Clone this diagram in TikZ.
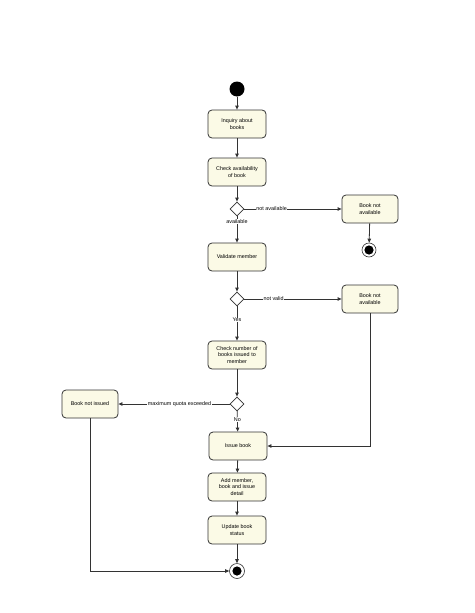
\documentclass[tikz,border=0pt]{standalone}
\usepackage{fontspec}
\setmainfont{Liberation Sans}
\usetikzlibrary{shapes.geometric,arrows.meta}
\definecolor{boxfill}{HTML}{FBFAE6}
\definecolor{edge}{HTML}{333333}
\begin{document}
\begin{tikzpicture}[x=1pt,y=-1pt,
  font=\fontsize{5.4}{6.6}\selectfont,
  act/.style={draw=edge,fill=boxfill,rounded corners=4pt,line width=0.8pt,
    minimum width=58pt,minimum height=28pt,align=center,inner sep=1pt},
  dec/.style={draw=edge,fill=white,diamond,line width=0.8pt,minimum width=14pt,minimum height=14pt,inner sep=0pt},
  startnode/.style={circle,fill=black,minimum size=15pt,inner sep=0pt},
  endnode/.style={circle,draw=edge,fill=white,line width=0.6pt,minimum size=14pt,inner sep=0pt,
    path picture={\fill[black] (path picture bounding box.center) circle (4.6pt);}},
  flow/.style={draw=edge,line width=0.8pt,-{Triangle[length=4pt,width=3.5pt]}},
  lbl/.style={fill=white,inner sep=0.5pt}]
\useasboundingbox (0,0) rectangle (474,613);
\node[startnode] (s) at (237,89) {};
\node[act] (inq) at (237,124) {Inquiry about\\books};
\node[act] (chk) at (237,172) {Check availability\\of book};
\node[dec] (d1) at (237,209) {};
\node[act,minimum width=56pt] (bna1) at (370,209) {Book not\\available};
\node[endnode] (e1) at (369,250) {};
\node[act] (val) at (237,257) {Validate member};
\node[dec] (d2) at (237,299) {};
\node[act,minimum width=56pt] (bna2) at (370,299) {Book not\\available};
\node[act] (cnt) at (237,355) {Check number of\\books issued to\\member};
\node[dec] (d3) at (237,404) {};
\node[act,minimum width=56pt] (bni) at (90,404) {Book not issued};
\node[act] (iss) at (238,446) {Issue book};
\node[act] (add) at (237,487) {Add member,\\book and issue\\detail};
\node[act] (upd) at (237,530) {Update book\\status};
\node[endnode,minimum size=15pt] (e2) at (237,571) {};

\draw[flow] (s) -- (inq);
\draw[flow] (inq) -- (chk);
\draw[flow] (chk) -- (d1);
\draw[flow] (d1) -- node[lbl,pos=0.28]{not available} (bna1);
\draw[flow] (bna1) -- (e1);
\draw[flow] (d1) -- node[lbl,pos=0.2]{available} (val);
\draw[flow] (val) -- (d2);
\draw[flow] (d2) -- node[lbl,pos=0.3]{not valid} (bna2);
\draw[flow] (d2) -- node[lbl,pos=0.4]{Yes} (cnt);
\draw[flow] (cnt) -- (d3);
\draw[flow] (d3) -- node[lbl,pos=0.45]{maximum quota exceeded} (bni);
\draw[flow] (d3) -- node[lbl,pos=0.4]{No} (iss);
\draw[flow] (bna2.south) |- (iss.east);
\draw[flow] (iss) -- (add);
\draw[flow] (add) -- (upd);
\draw[flow] (upd) -- (e2);
\draw[flow] (bni.south) |- (e2.west);
\end{tikzpicture}
\end{document}
